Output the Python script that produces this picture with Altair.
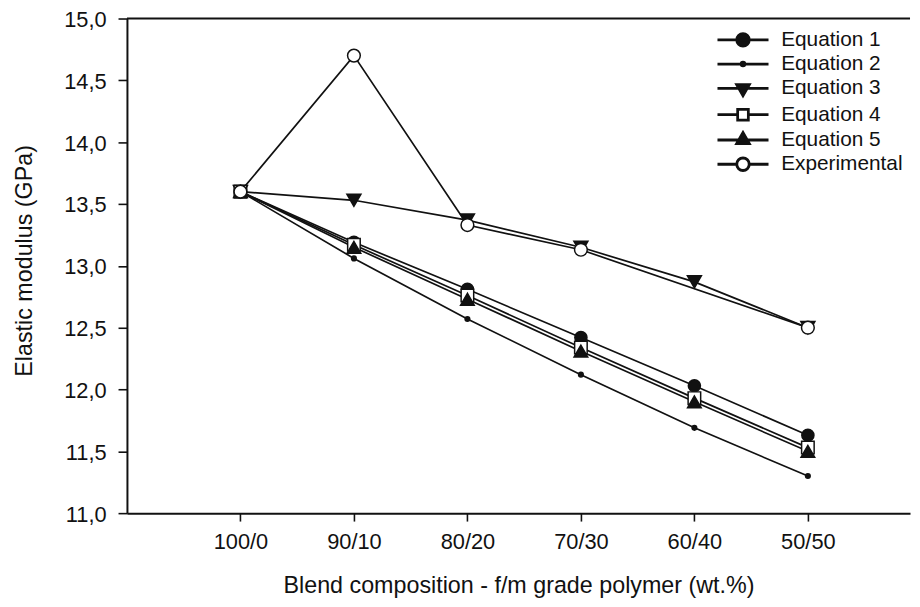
import altair as alt
import pandas as pd

categories = ["100/0", "90/10", "80/20", "70/30", "60/40", "50/50"]
series_names = ["Equation 1", "Equation 2", "Equation 3", "Equation 4", "Equation 5", "Experimental"]

eq1 = [13.60, 13.19, 12.81, 12.42, 12.03, 11.63]
eq2 = [13.60, 13.06, 12.57, 12.12, 11.69, 11.30]
eq3 = [13.60, 13.53, 13.37, 13.15, 12.87, 12.50]
eq4 = [13.60, 13.17, 12.76, 12.34, 11.93, 11.53]
eq5 = [13.60, 13.15, 12.73, 12.31, 11.90, 11.50]
experimental = [13.60, 14.70, 13.33, 13.13, None, 12.50]

y_ticks = [11.0, 11.5, 12.0, 12.5, 13.0, 13.5, 14.0, 14.5, 15.0]

rows = []
for name, vals in zip(series_names, [eq1, eq2, eq3, eq4, eq5, experimental]):
    for i, v in enumerate(vals):
        if v is not None:
            rows.append({"series": name, "idx": i, "value": v})
df = pd.DataFrame(rows)

FONT = "Liberation Sans"
INK = "#111111"

# plot markers
plot_shapes = ["circle", "circle", "triangle-down", "square", "triangle-up", "circle"]
plot_fills = [INK, INK, INK, "white", INK, "white"]
plot_sizes = [150, 22, 200, 160, 190, 165]

# legend symbols drawn as filled outlines (line + marker); unit = sqrt(symbolSize)/2 px
L = 3.57   # half length of the legend line
T = 0.1    # half thickness of the legend line


def seg(a, b):
    return f"M{a},-{T}H{b}V{T}H{a}Z"


def circ(r, cw=True):
    s = 1 if cw else 0
    return f"M-{r},0A{r},{r} 0 1,{s} {r},0A{r},{r} 0 1,{s} -{r},0Z"


legend_paths = [
    seg(-L, L) + circ(1.0),
    seg(-L, L) + circ(0.36),
    seg(-L, L) + "M-1.07,-0.62L1.07,-0.62L0,1.24Z",
    seg(-L, -0.82) + seg(0.82, L) + "M-0.86,-0.86H0.86V0.86H-0.86Z" + "M-0.68,-0.68V0.68H0.68V-0.68Z",
    seg(-L, L) + "M1.07,0.62L-1.07,0.62L0,-1.24Z",
    seg(-L, -0.95) + seg(0.95, L) + circ(1.0) + circ(0.8, cw=False),
]

label_expr = "[" + ",".join(f"'{c}'" for c in categories) + "][datum.value]"

x_enc = alt.X(
    "idx:Q",
    scale=alt.Scale(domain=[-1, 5.9], nice=False, zero=False),
    axis=alt.Axis(
        values=list(range(len(categories))),
        labelExpr=label_expr,
        title="Blend composition - f/m grade polymer (wt.%)",
        grid=False,
        tickSize=8,
        labelPadding=11,
        titleBaseline="alphabetic",
        titleY=80,
    ),
)
y_enc = alt.Y(
    "value:Q",
    scale=alt.Scale(domain=[11, 15], nice=False, zero=False),
    axis=alt.Axis(
        values=y_ticks,
        labelExpr="replace(format(datum.value, '.1f'), '.', ',')",
        title="Elastic modulus (GPa)",
        grid=False,
        tickSize=9,
        labelPadding=12,
        labelBaseline="alphabetic",
        labelOffset=8,
        titleBaseline="alphabetic",
        titleX=-96,
        titleY=244,
    ),
)

base = alt.Chart(df)

lines = base.mark_line(color=INK, strokeWidth=1.7).encode(
    x=x_enc, y=y_enc, detail="series:N", order="idx:Q"
)

point_layers = []
for name, shp, fil, sz in zip(series_names, plot_shapes, plot_fills, plot_sizes):
    point_layers.append(
        base.transform_filter(alt.datum.series == name)
        .mark_point(shape=shp, filled=True, fill=fil, stroke=INK, strokeWidth=1.5, size=sz, opacity=1)
        .encode(x=x_enc, y=y_enc)
    )

legend_layer = base.transform_filter("false").mark_point(
    filled=True, fill=INK, stroke=INK, strokeWidth=1.5
).encode(
    x=x_enc,
    y=y_enc,
    shape=alt.Shape(
        "series:N",
        scale=alt.Scale(domain=series_names, range=legend_paths),
        legend=alt.Legend(
            title=None,
            orient="none",
            legendX=611,
            legendY=11,
            symbolSize=196,
            symbolFillColor=INK,
            symbolOpacity=1,
            labelFont=FONT,
            labelFontSize=21,
            labelColor=INK,
            labelOffset=28,
            labelLimit=300,
            rowPadding=2.5,
            padding=0,
        ),
    ),
)

top_rule = alt.Chart(pd.DataFrame({"a": [0]})).mark_rule(color=INK, strokeWidth=2).encode(
    x=alt.datum(-1), x2=alt.datum(5.9), y=alt.datum(15)
)

chart = (
    alt.layer(lines, *point_layers, legend_layer, top_rule)
    .properties(
        width=790,
        height=499,
        padding={"left": 120, "top": 8, "right": 2, "bottom": 83},
        autosize=alt.AutoSizeParams(type="none"),
    )
    .configure_view(stroke=None)
    .configure_axis(
        domainColor=INK,
        domainWidth=2,
        tickColor=INK,
        tickWidth=1.6,
        labelFont=FONT,
        labelFontSize=22,
        labelColor=INK,
        titleFont=FONT,
        titleFontSize=23.5,
        titleFontWeight="normal",
        titleColor=INK,
    )
)

chart.save("out.html", embed_options={"renderer": "svg", "actions": False})
